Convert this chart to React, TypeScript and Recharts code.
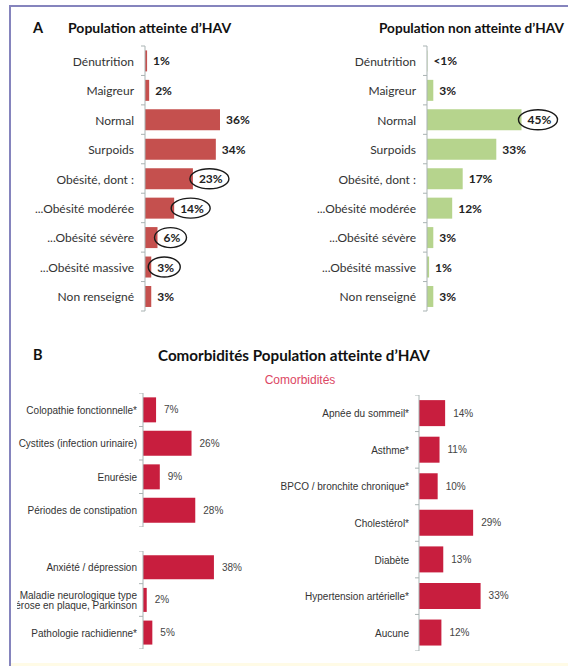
import React from "react";
import { BarChart, Bar, XAxis, YAxis, LabelList } from "recharts";

// ---------- Data ----------
const catsA = [
  "Dénutrition",
  "Maigreur",
  "Normal",
  "Surpoids",
  "Obésité, dont :",
  "...Obésité modérée",
  "...Obésité sévère",
  "...Obésité massive",
  "Non renseigné",
];
const valsAtteinte = [1, 2, 36, 34, 23, 14, 6, 3, 3];
const labelsAtteinte = ["1%", "2%", "36%", "34%", "23%", "14%", "6%", "3%", "3%"];
const circledAtteinte = [false, false, false, false, true, true, true, true, false];

const valsNonAtteinte = [0.2, 3, 45, 33, 17, 12, 3, 1, 3];
const labelsNonAtteinte = ["<1%", "3%", "45%", "33%", "17%", "12%", "3%", "1%", "3%"];
const circledNonAtteinte = [false, false, true, false, false, false, false, false, false];

const catsB1 = [
  "Colopathie fonctionnelle*",
  "Cystites (infection urinaire)",
  "Enurésie",
  "Périodes de constipation",
];
const valsB1 = [7, 26, 9, 28];

const catsB2 = [
  "Anxiété / dépression",
  "Maladie neurologique type\nsclérose en plaque, Parkinson",
  "Pathologie rachidienne*",
];
const valsB2 = [38, 2, 5];

const catsB3 = [
  "Apnée du sommeil*",
  "Asthme*",
  "BPCO / bronchite chronique*",
  "Cholestérol*",
  "Diabète",
  "Hypertension artérielle*",
  "Aucune",
];
const valsB3 = [14, 11, 10, 29, 13, 33, 12];

const build = (cats: string[], vals: number[], labels?: string[], circled?: boolean[]) =>
  cats.map((name, i) => ({
    name,
    v: vals[i],
    lab: labels ? labels[i] : `${vals[i]}%`,
    circ: circled ? circled[i] : false,
  }));

// ---------- Helpers ----------
const makeTick = (
  axisX: number,
  band: number,
  count: number,
  gap: number,
  font: { family: string; size: number; color: string; lineH: number }
) =>
  function Tick(props: any) {
    const { y, payload, index } = props;
    const lines = String(payload.value).split("\n");
    return (
      <g>
        <line x1={axisX - 4} x2={axisX} y1={y - band / 2} y2={y - band / 2} stroke="#a9b3b3" strokeWidth={1} />
        {index === count - 1 && (
          <line x1={axisX - 4} x2={axisX} y1={y + band / 2} y2={y + band / 2} stroke="#a9b3b3" strokeWidth={1} />
        )}
        <text
          x={axisX - gap}
          y={y}
          textAnchor="end"
          dominantBaseline="central"
          fontFamily={font.family}
          fontSize={font.size}
          fill={font.color}
        >
          {lines.map((l, i) => (
            <tspan key={i} x={axisX - gap} dy={i === 0 ? -((lines.length - 1) * font.lineH) / 2 : font.lineH}>
              {l}
            </tspan>
          ))}
        </text>
      </g>
    );
  };

const makeLabel = (
  data: { lab: string; circ: boolean }[],
  offset: number,
  font: { family: string; size: number; color: string; weight: number; charW: number }
) =>
  function Lab(props: any) {
    const { x, y, width, height, index } = props;
    const d = data[index];
    const tx = Number(x) + Number(width) + offset;
    const ty = Number(y) + Number(height) / 2;
    const tw = d.lab.length * font.charW;
    return (
      <g>
        <text
          x={tx}
          y={ty}
          dominantBaseline="central"
          fontFamily={font.family}
          fontSize={font.size}
          fontWeight={font.weight}
          fill={font.color}
        >
          {d.lab}
        </text>
        {d.circ && (
          <ellipse cx={tx + tw / 2} cy={ty} rx={tw / 2 + 9} ry={10} fill="none" stroke="#1a1a1a" strokeWidth={1.4} />
        )}
      </g>
    );
  };

const fontA = { family: "Lato, 'Open Sans', sans-serif", size: 12, color: "#333333", lineH: 12 };
const valFontA = { family: "Lato, 'Open Sans', sans-serif", size: 12, color: "#222222", weight: 700, charW: 7 };
const fontB = { family: "'Liberation Sans Narrow', 'Liberation Sans', Arial, sans-serif", size: 10, color: "#333333", lineH: 10 };
const valFontB = { family: "'Liberation Sans', Arial, sans-serif", size: 10, color: "#444444", weight: 400, charW: 6 };

type PanelProps = {
  data: { name: string; v: number; lab: string; circ: boolean }[];
  width: number;
  height: number;
  margin: { top: number; right: number; bottom: number; left: number };
  axisW: number;
  color: string;
  gap: number;
  catGap: string;
  tickFont: any;
  valFont: any;
  labOffset: number;
};

function Panel(p: PanelProps) {
  const plotH = p.height - p.margin.top - p.margin.bottom;
  const band = plotH / p.data.length;
  const axisX = p.margin.left + p.axisW;
  return (
    <BarChart
      width={p.width}
      height={p.height}
      data={p.data}
      layout="vertical"
      margin={p.margin}
      barCategoryGap={p.catGap}
    >
      <XAxis type="number" domain={[0, 60]} hide />
      <YAxis
        type="category"
        dataKey="name"
        width={p.axisW}
        interval={0}
        axisLine={{ stroke: "#a9b3b3" }}
        tickLine={false}
        tick={makeTick(axisX, band, p.data.length, p.gap, p.tickFont)}
      />
      <Bar dataKey="v" fill={p.color} isAnimationActive={false}>
        <LabelList dataKey="v" content={makeLabel(p.data, p.labOffset, p.valFont)} />
      </Bar>
    </BarChart>
  );
}

const abs = (left: number, top: number): React.CSSProperties => ({ position: "absolute", left, top });

export default function App() {
  const titleFont = "Lato, 'Open Sans', sans-serif";
  return (
    <div style={{ position: "relative", width: 568, height: 666, overflow: "hidden", background: "#ffffff" }}>
      <style>{`body{margin:0;}`}</style>
      {/* frame */}
      <div style={{ position: "absolute", left: 9, top: 5, width: 600, height: 2, background: "#8584bd" }} />
      <div style={{ position: "absolute", left: 9, top: 5, width: 2, height: 700, background: "#8584bd" }} />
      <div style={{ position: "absolute", left: 11, top: 663, width: 600, height: 3, background: "#fffbe6" }} />

      {/* Panel A titles */}
      <div style={{ ...abs(33, 19), fontFamily: titleFont, fontWeight: 700, fontSize: 14.5, lineHeight: "18px", color: "#111" }}>A</div>
      <div style={{ ...abs(68, 19), fontFamily: titleFont, fontWeight: 700, fontSize: 14, lineHeight: "18px", color: "#111", whiteSpace: "nowrap" }}>
        Population atteinte d’HAV
      </div>
      <div style={{ ...abs(379, 19), fontFamily: titleFont, fontWeight: 700, fontSize: 13.6, lineHeight: "18px", color: "#111", whiteSpace: "nowrap" }}>
        Population non atteinte d’HAV
      </div>

      <div style={abs(0, 0)}>
        <Panel
          data={build(catsA, valsAtteinte, labelsAtteinte, circledAtteinte)}
          width={290}
          height={330}
          margin={{ top: 46, right: 20, bottom: 19, left: 0 }}
          axisW={145}
          color="#c5504e"
          gap={11}
          catGap="15%"
          tickFont={fontA}
          valFont={valFontA}
          labOffset={6}
        />
      </div>
      <div style={abs(280, 0)}>
        <Panel
          data={build(catsA, valsNonAtteinte, labelsNonAtteinte, circledNonAtteinte)}
          width={288}
          height={330}
          margin={{ top: 46, right: 15, bottom: 19, left: 0 }}
          axisW={147}
          color="#b6d48d"
          gap={11}
          catGap="15%"
          tickFont={fontA}
          valFont={valFontA}
          labOffset={6}
        />
      </div>

      {/* Panel B titles */}
      <div style={{ ...abs(33, 346), fontFamily: titleFont, fontWeight: 700, fontSize: 14.5, lineHeight: "18px", color: "#111" }}>B</div>
      <div style={{ ...abs(158, 346), fontFamily: titleFont, fontWeight: 700, fontSize: 15.2, lineHeight: "18px", color: "#111", whiteSpace: "nowrap" }}>
        Comorbidités Population atteinte d’HAV
      </div>
      <div style={{ position: "absolute", left: 200, width: 200, top: 372, textAlign: "center", fontFamily: "'Liberation Sans', Arial, sans-serif", fontSize: 12, lineHeight: "16px", color: "#dc4764" }}>
        Comorbidités
      </div>

      <div style={abs(17, 393)}>
        <Panel
          data={build(catsB1, valsB1)}
          width={273}
          height={134}
          margin={{ top: 0, right: 35, bottom: 0, left: 0 }}
          axisW={126}
          color="#c81e3e"
          gap={6}
          catGap="13%"
          tickFont={fontB}
          valFont={valFontB}
          labOffset={8}
        />
      </div>
      <div style={abs(17, 551)}>
        <Panel
          data={build(catsB2, valsB2)}
          width={273}
          height={98}
          margin={{ top: 0, right: 35, bottom: 0, left: 0 }}
          axisW={126}
          color="#c81e3e"
          gap={6}
          catGap="13%"
          tickFont={fontB}
          valFont={valFontB}
          labOffset={8}
        />
      </div>
      <div style={abs(280, 395)}>
        <Panel
          data={build(catsB3, valsB3)}
          width={288}
          height={256}
          margin={{ top: 0, right: 37, bottom: 0, left: 0 }}
          axisW={139}
          color="#c81e3e"
          gap={10}
          catGap="14%"
          tickFont={fontB}
          valFont={valFontB}
          labOffset={8}
        />
      </div>
    </div>
  );
}
